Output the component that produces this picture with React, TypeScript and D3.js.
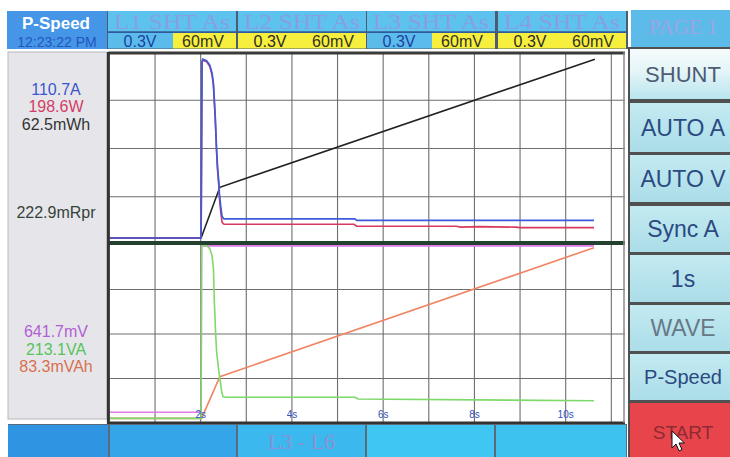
import React from "react";
import * as d3 from "d3";

// ---- data (time in s, values in screen divisions) ----
const timeTicks = [2, 4, 6, 8, 10];
const gridSeconds = [1, 2, 3, 4, 5, 6, 7, 8, 9, 10, 11];
const gridDivs = [1, 2, 3];

const currentA: [number, number][] = [
  [0, 0.145], [2.01, 0.145], [2.03, 3.8], [2.045, 3.85], [2.13, 3.82], [2.2, 3.73],
  [2.25, 3.56], [2.28, 3.35], [2.3, 3.01], [2.32, 2.66], [2.35, 1.97], [2.37, 1.62],
  [2.4, 1.28], [2.41, 1.07], [2.44, 0.8], [2.47, 0.59], [2.51, 0.54], [5.38, 0.54],
  [5.42, 0.51], [10.62, 0.51],
];
const powerW: [number, number][] = [
  [0, 0.145], [2.01, 0.145], [2.03, 3.78], [2.045, 3.83], [2.13, 3.8], [2.2, 3.7],
  [2.25, 3.52], [2.28, 3.3], [2.3, 2.95], [2.32, 2.6], [2.35, 1.9], [2.37, 1.55],
  [2.4, 1.2], [2.41, 0.98], [2.44, 0.68], [2.47, 0.47], [2.51, 0.43], [5.36, 0.43],
  [5.42, 0.39], [7.6, 0.39], [7.7, 0.37], [8.1, 0.38], [8.9, 0.37], [9.0, 0.36], [10.62, 0.36],
];
const energyWh: [number, number][] = [
  [0, 0.145], [2.01, 0.145], [2.42, 1.196], [10.64, 3.85],
];
const voltageMV: [number, number][] = [
  [0, 0.24], [2.01, 0.24], [2.02, 3.98], [10.62, 3.98],
];
const energyVAh: [number, number][] = [
  [0, 0.105], [2.02, 0.105], [2.42, 1.04], [10.62, 3.94],
];
const apparentVA: [number, number][] = [
  [0, 0.105], [2.01, 0.105], [2.02, 3.99], [2.13, 3.99], [2.2, 3.92], [2.25, 3.76],
  [2.28, 3.47], [2.3, 2.72], [2.33, 1.97], [2.35, 1.6], [2.39, 1.23], [2.42, 1.01],
  [2.46, 0.71], [2.49, 0.59], [2.57, 0.58], [5.38, 0.58], [5.45, 0.54], [10.62, 0.5],
];

const upperReadouts = [
  { text: "110.7A", color: "#3b55cc", y: 89 },
  { text: "198.6W", color: "#d23e66", y: 106.5 },
  { text: "62.5mWh", color: "#333333", y: 124 },
  { text: "222.9mRpr", color: "#34433a", y: 212.5 },
];
const lowerReadouts = [
  { text: "641.7mV", color: "#b25ed6", y: 331.5 },
  { text: "213.1VA", color: "#55c45a", y: 349 },
  { text: "83.3mVAh", color: "#d8704f", y: 366.5 },
];
const channels = [
  { name: "L1  SHT  As", volt: "0.3V", mv: "60mV", voltBlue: true },
  { name: "L2  SHT  As", volt: "0.3V", mv: "60mV", voltBlue: false },
  { name: "L3  SHT  As", volt: "0.3V", mv: "60mV", voltBlue: true },
  { name: "L4  SHT  As", volt: "0.3V", mv: "60mV", voltBlue: false },
];
const buttons = [
  { label: "SHUNT", color: "#4d5b73", size: 22 },
  { label: "AUTO A", color: "#2b4a82", size: 23 },
  { label: "AUTO V", color: "#2b4a82", size: 23 },
  { label: "Sync A", color: "#2b4a82", size: 23 },
  { label: "1s", color: "#2b4a82", size: 23 },
  { label: "WAVE", color: "#687888", size: 23 },
  { label: "P-Speed", color: "#2b4a82", size: 20 },
];
const bottomCells = [
  { label: "", fill: "#2f95e3" },
  { label: "", fill: "#35a5ea" },
  { label: "L3 - L6", fill: "#3bb9ee" },
  { label: "", fill: "#3fc6f2" },
  { label: "", fill: "#3dc2f0" },
];

// ---- layout ----
const W = 730;
const H = 457;
const plotL = 109.4;
const plotR = 625;
const plotT = 52;
const divY = 244;
const plotB = 423;

const x = d3.scaleLinear().domain([0, 11.3]).range([plotL, plotR]);
const yU = d3.scaleLinear().domain([0, 4]).range([245, plotT]);
const yL = d3.scaleLinear().domain([0, 4]).range([423, 245]);

const lineU = d3.line<[number, number]>().x((d) => x(d[0])).y((d) => yU(d[1]));
const lineL = d3.line<[number, number]>().x((d) => x(d[0])).y((d) => yL(d[1]));

const sans = "'Liberation Sans', Arial, sans-serif";
const serif = "'Liberation Serif', 'Times New Roman', serif";

export default function App() {
  const headerX = [108, 238, 367, 498];
  const headerW = 128;
  const btnTops = [49, 103, 155, 206, 255, 305, 354];
  const btnBottoms = [99, 152, 202, 252, 302, 351, 400];
  const cellX = [8, 110, 238, 367, 496];
  const cellR = [108, 236, 365, 494, 626];

  return (
    <div style={{ position: "absolute", left: 0, top: 0 }}>
      <svg width={W} height={H} viewBox={`0 0 ${W} ${H}`} style={{ display: "block" }}>
        <defs>
          <linearGradient id="shunt" x1="0" y1="0" x2="0" y2="1">
            <stop offset="0" stopColor="#f6fbfc" />
            <stop offset="0.45" stopColor="#e4f5f8" />
            <stop offset="1" stopColor="#b9e5ee" />
          </linearGradient>
          <linearGradient id="btn" x1="0" y1="0" x2="0" y2="1">
            <stop offset="0" stopColor="#c3eaf1" />
            <stop offset="1" stopColor="#abdde8" />
          </linearGradient>
        </defs>
        <rect x={0} y={0} width={W} height={H} fill="#ffffff" />

        {/* top bar */}
        <rect x={7} y={11} width={621} height={38} fill="#4d5d70" />
        <rect x={7} y={11} width={100} height={38} fill="#4596e6" />
        <text x={56} y={28.5} textAnchor="middle" fontFamily={sans} fontWeight="bold" fontSize={17} fill="#ffffff">
          P-Speed
        </text>
        <text x={57} y={46.5} textAnchor="middle" fontFamily={sans} fontSize={14} fill="#2457c0">
          12:23:22 PM
        </text>
        {channels.map((c, i) => (
          <g key={c.name}>
            <rect x={headerX[i]} y={11} width={headerW} height={20.5} fill="#5ec2ee" />
            <rect x={headerX[i]} y={31.5} width={headerW} height={1.5} fill="#2d5b9e" />
            <rect x={headerX[i]} y={33} width={65} height={15.5} fill={c.voltBlue ? "#5bbcec" : "#f7ef3e"} />
            <rect x={headerX[i] + 65} y={33} width={headerW - 65} height={15.5} fill="#f7ef3e" />
            <text
              x={headerX[i] + headerW / 2}
              y={29}
              textAnchor="middle"
              fontFamily={serif}
              fontSize={22}
              fill="#8d9ce2"
              textLength={116}
              lengthAdjust="spacingAndGlyphs"
              opacity={0.9}
            >
              {c.name}
            </text>
            <text x={headerX[i] + 32} y={46.5} textAnchor="middle" fontFamily={sans} fontSize={16} fill={c.voltBlue ? "#1f3f9e" : "#2a2a2a"}>
              {c.volt}
            </text>
            <text x={headerX[i] + 95} y={46.5} textAnchor="middle" fontFamily={sans} fontSize={16} fill="#333322">
              {c.mv}
            </text>
          </g>
        ))}
        {/* PAGE 1 */}
        <rect x={631} y={10} width={99} height={37} fill="#5cbbe9" />
        <text x={683} y={34} textAnchor="middle" fontFamily={serif} fontSize={21} fill="#9ea4e2">
          PAGE 1
        </text>

        {/* left readout panel */}
        <rect x={8} y={52} width={99} height={367} fill="#e6e6ea" stroke="#b8b8bc" strokeWidth={1} />
        {upperReadouts.concat(lowerReadouts).map((r) => (
          <text key={r.text} x={56} y={r.y} dy="0.36em" textAnchor="middle" fontFamily={sans} fontSize={16} fill={r.color}>
            {r.text}
          </text>
        ))}

        {/* plot background */}
        <rect x={plotL} y={plotT} width={plotR - plotL} height={plotB - plotT} fill="#ffffff" />
        {/* grid */}
        {gridSeconds.map((s) => (
          <line key={"gx" + s} x1={x(s)} x2={x(s)} y1={plotT} y2={plotB} stroke="#6e6e6e" strokeWidth={1.1} />
        ))}
        {gridDivs.map((d) => (
          <line key={"gu" + d} x1={plotL} x2={plotR} y1={yU(d)} y2={yU(d)} stroke="#6e6e6e" strokeWidth={1.1} />
        ))}
        {gridDivs.map((d) => (
          <line key={"gl" + d} x1={plotL} x2={plotR} y1={yL(d)} y2={yL(d)} stroke="#6e6e6e" strokeWidth={1.1} />
        ))}

        {/* upper traces */}
        <path d={lineU(energyWh) || ""} fill="none" stroke="#222222" strokeWidth={1.6} />
        <path d={lineU(powerW) || ""} fill="none" stroke="#d8395f" strokeWidth={1.6} />
        <path d={lineU(currentA) || ""} fill="none" stroke="#3d5bdc" strokeWidth={1.7} />

        {/* lower traces */}
        <path d={lineL(voltageMV) || ""} fill="none" stroke="#e07ae8" strokeWidth={1.6} />
        <path d={lineL(energyVAh) || ""} fill="none" stroke="#f08462" strokeWidth={1.6} />
        <path d={lineL(apparentVA) || ""} fill="none" stroke="#7ed86a" strokeWidth={1.6} />

        {/* time labels */}
        {timeTicks.map((t) => (
          <text key={"t" + t} x={x(t)} y={414} dy="0.35em" textAnchor="middle" fontFamily={sans} fontSize={10} fill="#2f52c4">
            {t + "s"}
          </text>
        ))}

        {/* frame */}
        <line x1={plotL - 1} x2={plotR} y1={plotT + 1} y2={plotT + 1} stroke="#3a3a3a" strokeWidth={3} />
        <line x1={plotL - 1} x2={plotR} y1={divY - 1} y2={divY - 1} stroke="#24402f" strokeWidth={4} />
        <line x1={plotL - 1} x2={plotR} y1={plotB} y2={plotB} stroke="#333333" strokeWidth={3} />
        <line x1={plotL - 1} x2={plotL - 1} y1={plotT} y2={plotB + 1} stroke="#333333" strokeWidth={3} />
        <line x1={plotR - 1} x2={plotR - 1} y1={plotT} y2={plotB} stroke="#8a8a8a" strokeWidth={1.5} />

        {/* bottom bar */}
        <rect x={8} y={424} width={619} height={33} fill="#5a6a7a" />
        {bottomCells.map((c, i) => (
          <g key={"bc" + i}>
            <rect x={cellX[i]} y={425} width={cellR[i] - cellX[i]} height={32} fill={c.fill} />
            {c.label && (
              <text x={(cellX[i] + cellR[i]) / 2} y={449} textAnchor="middle" fontFamily={serif} fontSize={22} fill="#8c90d6">
                {c.label}
              </text>
            )}
          </g>
        ))}

        {/* right buttons */}
        <rect x={628} y={47} width={102} height={410} fill="#505050" />
        {buttons.map((b, i) => (
          <g key={b.label}>
            <rect
              x={630}
              y={btnTops[i]}
              width={100}
              height={btnBottoms[i] - btnTops[i]}
              fill={i === 0 ? "url(#shunt)" : "url(#btn)"}
            />
            <text
              x={683}
              y={(btnTops[i] + btnBottoms[i]) / 2}
              dy="0.36em"
              textAnchor="middle"
              fontFamily={sans}
              fontSize={b.size}
              fill={b.color}
            >
              {b.label}
            </text>
          </g>
        ))}
        <rect x={630} y={403} width={100} height={54} fill="#e8444b" />
        <text x={683} y={432} dy="0.36em" textAnchor="middle" fontFamily={sans} fontSize={19} fill="#8c2b33">
          START
        </text>
        {/* mouse pointer */}
        <path
          d="M672 431 L672 448 L676 444 L679 451 L682 449.5 L679 443 L684.5 443 Z"
          fill="#ffffff"
          stroke="#111111"
          strokeWidth={1}
        />
      </svg>
    </div>
  );
}
